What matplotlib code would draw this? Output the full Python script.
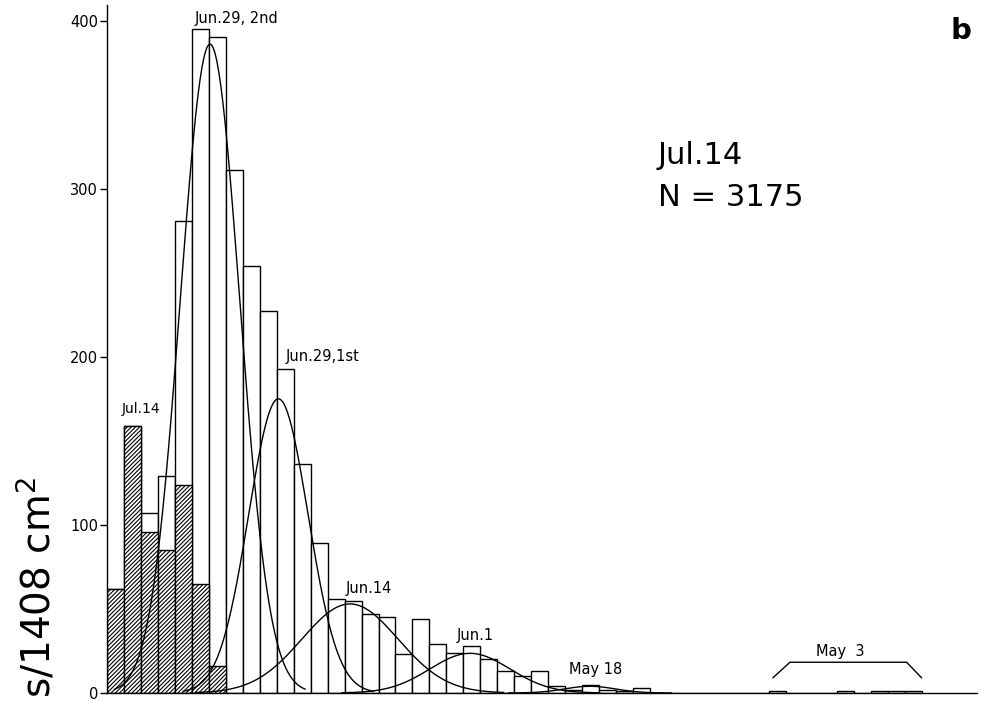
import numpy as np
import matplotlib
matplotlib.use("Agg")
import matplotlib.pyplot as plt

plt.rcParams['font.family'] = ['DejaVu Sans']
plt.rcParams['hatch.linewidth'] = 0.8

# size classes (one bar per class), counts per 1408 cm2
totals = [62, 159, 107, 129, 281, 395, 390, 311, 254, 227, 193, 136, 89,
          56, 55, 47, 45, 23, 44, 29, 24, 28, 20, 13, 10, 13, 4, 2, 5, 2, 1, 3,
          0, 0, 0, 0, 0, 0, 0, 1, 0, 0, 0, 1, 0, 1, 1, 1]
# newly settled Jul.14 cohort (hatched part of the first bars)
jul14 = [62, 159, 96, 85, 124, 65, 16]

# normal components fitted to the cohorts: mean, sd (in classes), peak height
cohorts = ["Jun.29, 2nd", "Jun.29,1st", "Jun.14", "Jun.1", "May 18"]
means = [6.07, 10.1, 14.32, 21.39, 28.46]
sds = [1.75, 1.75, 2.83, 2.36, 1.5]
peaks = [386, 175, 53, 23.6, 4]
label_pos = [(7.66, 401), (12.7, 200), (15.44, 62), (21.69, 34.5), (28.8, 13.7)]

fig = plt.figure(figsize=(9.91, 7.01), dpi=100)
ax = fig.add_axes([107 / 991, 8 / 701, 870 / 991, 688 / 701])

idx = np.arange(len(totals))
ax.bar(idx, totals, width=1, align='edge', facecolor='white',
       edgecolor='black', linewidth=1.0)
ax.bar(np.arange(len(jul14)), jul14, width=1, align='edge', facecolor='white',
       edgecolor='black', linewidth=1.0, hatch='////////')

for m, s, p in zip(means, sds, peaks):
    xs = np.linspace(m - 3.2 * s, m + 3.2 * s, 200)
    ax.plot(xs, p * np.exp(-(xs - m) ** 2 / (2 * s ** 2)), color='black', lw=1.0)

for name, (x, y) in zip(cohorts, label_pos):
    ax.text(x, y, name, ha='center', va='center', fontsize=10.5)
ax.text(1.99, 169, "Jul.14", ha='center', va='center', fontsize=10)

# bracket over the few oldest individuals
ax.plot([39.25, 40.25, 47.12, 48.0], [9.1, 18.3, 18.3, 9.1], color='black', lw=1.0)
ax.text(43.19, 24.4, "May  3", ha='center', va='center', fontsize=10.5)

ax.set_xlim(0, 51.27)
ax.set_ylim(0, 409.3)
ax.set_xticks([])
ax.set_yticks([0, 100, 200, 300, 400])
ax.tick_params(axis='y', direction='out', length=5, width=1.0, pad=1.5, labelsize=10.5)
for side in ['top', 'right']:
    ax.spines[side].set_visible(False)
for side in ['left', 'bottom']:
    ax.spines[side].set_linewidth(1.0)

fig.text(51 / 991, 3 / 701, "s/1408 cm$^2$", rotation=90,
         rotation_mode='anchor', ha='left', va='baseline', fontsize=28)
fig.text(658 / 991, 1 - 156 / 701, "Jul.14", ha='left', va='center', fontsize=22)
fig.text(658 / 991, 1 - 198 / 701, "N = 3175", ha='left', va='center', fontsize=22)
fig.text(961 / 991, 1 - 31 / 701, "b", ha='center', va='center', fontsize=21,
         fontweight='bold')

fig.savefig("out.png", dpi=100)
